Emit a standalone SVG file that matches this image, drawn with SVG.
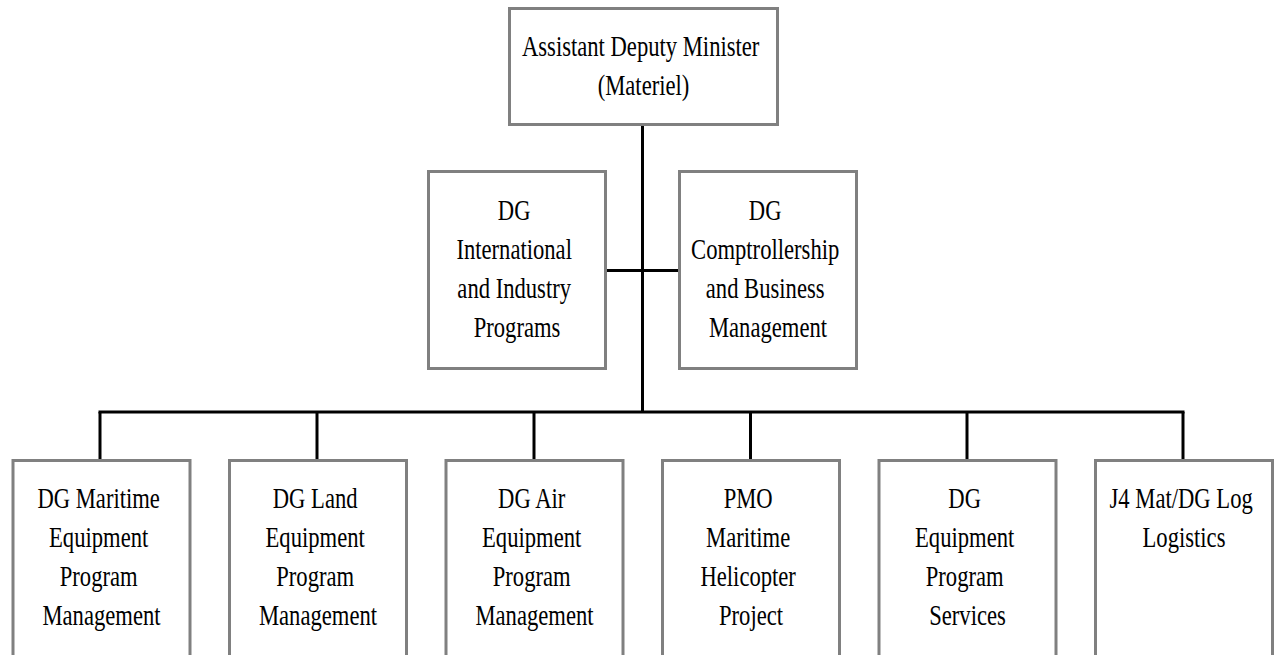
<svg xmlns="http://www.w3.org/2000/svg" width="1274" height="655" viewBox="0 0 1274 655">
  <style>
    .box { fill: #ffffff; stroke: #808080; stroke-width: 3; }
    .link { fill: none; stroke: #000000; stroke-width: 3; }
    .t { font-family: 'Liberation Serif', 'DejaVu Serif', serif; font-size: 29px; fill: #000000; text-anchor: middle; }
  </style>
  <rect x="0" y="0" width="1274" height="655" fill="#ffffff"/>

  <!-- connectors -->
  <g id="connectors">
    <line class="link" x1="642.5" y1="125" x2="642.5" y2="412"/>
    <line class="link" x1="607" y1="270.5" x2="678" y2="270.5"/>
    <line class="link" x1="98.5" y1="412" x2="1184.5" y2="412"/>
    <line class="link" x1="100" y1="412" x2="100" y2="460"/>
    <line class="link" x1="317" y1="412" x2="317" y2="460"/>
    <line class="link" x1="534" y1="412" x2="534" y2="460"/>
    <line class="link" x1="750.5" y1="412" x2="750.5" y2="460"/>
    <line class="link" x1="967" y1="412" x2="967" y2="460"/>
    <line class="link" x1="1183" y1="412" x2="1183" y2="460"/>
  </g>

  <!-- top level -->
  <g id="adm-mat">
    <rect class="box" x="509.5" y="8.5" width="268" height="116"/>
    <text class="t" font-family="Liberation Serif" transform="translate(643.5 0) scale(0.78 1)">
      <tspan x="0" y="56">Assistant Deputy Minister</tspan>
      <tspan x="0" y="95">(Materiel)</tspan>
    </text>
  </g>

  <!-- staff directorates -->
  <g id="dg-iip">
    <rect class="box" x="428.5" y="171.5" width="177" height="197"/>
    <text class="t" transform="translate(517 0) scale(0.78 1)">
      <tspan x="0" y="220">DG</tspan>
      <tspan x="0" y="259">International</tspan>
      <tspan x="0" y="298">and Industry</tspan>
      <tspan x="0" y="337">Programs</tspan>
    </text>
  </g>
  <g id="dg-cbm">
    <rect class="box" x="679.5" y="171.5" width="177" height="197"/>
    <text class="t" transform="translate(768 0) scale(0.78 1)">
      <tspan x="0" y="220">DG</tspan>
      <tspan x="0" y="259">Comptrollership</tspan>
      <tspan x="0" y="298">and Business</tspan>
      <tspan x="0" y="337">Management</tspan>
    </text>
  </g>

  <!-- line directorates -->
  <g id="dg-mepm">
    <rect class="box" x="13" y="460.5" width="177" height="240"/>
    <text class="t" transform="translate(101.5 0) scale(0.78 1)">
      <tspan x="0" y="508">DG Maritime</tspan>
      <tspan x="0" y="547">Equipment</tspan>
      <tspan x="0" y="586">Program</tspan>
      <tspan x="0" y="625">Management</tspan>
    </text>
  </g>
  <g id="dg-lepm">
    <rect class="box" x="229.5" y="460.5" width="177" height="240"/>
    <text class="t" transform="translate(318 0) scale(0.78 1)">
      <tspan x="0" y="508">DG Land</tspan>
      <tspan x="0" y="547">Equipment</tspan>
      <tspan x="0" y="586">Program</tspan>
      <tspan x="0" y="625">Management</tspan>
    </text>
  </g>
  <g id="dg-aepm">
    <rect class="box" x="446" y="460.5" width="177" height="240"/>
    <text class="t" transform="translate(534.5 0) scale(0.78 1)">
      <tspan x="0" y="508">DG Air</tspan>
      <tspan x="0" y="547">Equipment</tspan>
      <tspan x="0" y="586">Program</tspan>
      <tspan x="0" y="625">Management</tspan>
    </text>
  </g>
  <g id="pmo-mhp">
    <rect class="box" x="662.5" y="460.5" width="177" height="240"/>
    <text class="t" transform="translate(751 0) scale(0.78 1)">
      <tspan x="0" y="508">PMO</tspan>
      <tspan x="0" y="547">Maritime</tspan>
      <tspan x="0" y="586">Helicopter</tspan>
      <tspan x="0" y="625">Project</tspan>
    </text>
  </g>
  <g id="dg-eps">
    <rect class="box" x="879" y="460.5" width="177" height="240"/>
    <text class="t" transform="translate(967.5 0) scale(0.78 1)">
      <tspan x="0" y="508">DG</tspan>
      <tspan x="0" y="547">Equipment</tspan>
      <tspan x="0" y="586">Program</tspan>
      <tspan x="0" y="625">Services</tspan>
    </text>
  </g>
  <g id="j4-mat">
    <rect class="box" x="1095.5" y="460.5" width="177" height="240"/>
    <text class="t" transform="translate(1184 0) scale(0.78 1)">
      <tspan x="0" y="508">J4 Mat/DG Log</tspan>
      <tspan x="0" y="547">Logistics</tspan>
    </text>
  </g>
</svg>
